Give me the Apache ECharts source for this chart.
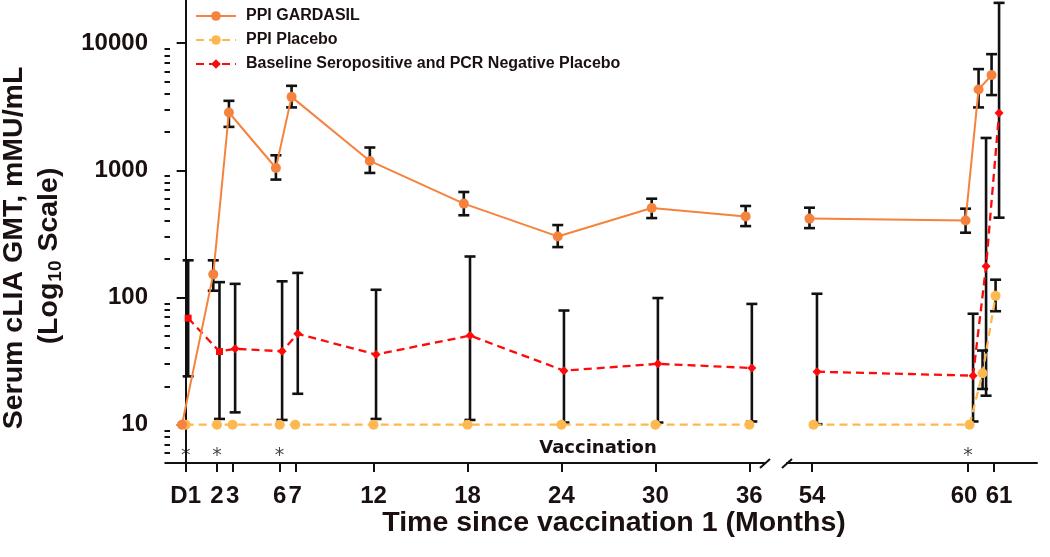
<!DOCTYPE html>
<html><head><meta charset="utf-8">
<script src="https://cdn.jsdelivr.net/npm/echarts@6/dist/echarts.min.js"></script>
<style>html,body{margin:0;padding:0;background:#fff}#c{width:1050px;height:557px}</style>
</head><body><div id="c"></div><script>
// ---- data (months since vaccination 1) ----
const monthsLeft = [0, 2, 3, 6, 7, 12, 18, 24, 30, 36];
const monthsRight = [54, 60, 60.5, 61];
const tickLabelsLeft = ['D1', '2', '3', '6', '7', '12', '18', '24', '30', '36'];
const tickValuesRightA = [54, 60];
const tickLabelsRightA = ['54', '60'];
const tickValuesRightB = [61];
const tickLabelsRightB = ['61'];
const yTickValues = [10, 100, 1000, 10000];
const yMinorTicks = [5, 6, 7, 8, 9, 20, 30, 40, 50, 60, 70, 80, 90, 200, 300, 400, 500, 600, 700, 800, 900, 2000, 3000, 4000, 5000, 6000, 7000, 8000, 9000];

const gardasilGMT  = [10, 152, 2846, 1042, 3776, 1184, 547, 302, 505, 434, 417, 403, 4317, 5600];
const gardasilLow  = [null, 113, 2193, 845, 3120, 953, 443, 249, 421, 364, 351, 323, 3120, 3900];
const gardasilHigh = [null, 196, 3515, 1312, 4613, 1510, 675, 371, 598, 524, 508, 499, 6240, 8180];

const placeboGMT  = [10, 10, 10, 10, 10, 10, 10, 10, 10, 10, 10, 10, 25.4, 103];
const placeboLow  = [null, null, null, null, null, null, null, null, null, null, null, null, 19.1, 78];
const placeboHigh = [null, null, null, null, null, null, null, null, null, null, null, null, 38.3, 138];

const seroGMT  = [68.7, 37.6, 39.5, 37.8, 51.8, 35.6, 50.2, 26.6, 30.1, 27.9, 26.1, 24.3, 176, 2826];
const seroLow  = [24, 11.1, 12.5, 10.9, 17.5, 11.1, 10.9, 10.4, 10.4, 10.6, 10.1, 10.6, 16.9, 424];
const seroHigh = [196, 132, 128, 134, 156, 115, 210, 79, 99, 89, 107, 74.5, 1795, 20700];
const seroSymbols = ['rect', 'rect', 'diamond', 'diamond', 'diamond', 'diamond', 'diamond', 'diamond', 'diamond', 'diamond', 'diamond', 'diamond', 'diamond', 'diamond'];

const asteriskLeft = [0, 2, 6];
const asteriskRight = [60];

// ---- layout / style ----
const TXT = '#1a1010';
const C_GARD = '#F5833E', C_PLAC = '#FDB94F', C_SERO = '#FF0A0A';
const LG = {left: 170, width: 595, min: -1, max: 37};
const RG = {left: 787, width: 250, min: 53.04, max: 62.65};
const YG = {top: 0, height: 463, min: 5, max: 21800};
const pxL = LG.width / (LG.max - LG.min), pxR = RG.width / (RG.max - RG.min);
const jitter = {gard: [-3.7, -2.5], plac: [0, 1.5], sero: [2.5, 5]}; // px, left/right
const ASTER_Y = 5.65;

const nL = monthsLeft.length;
function part(arr, right) { return right ? arr.slice(nL) : arr.slice(0, nL); }

function lineSeries(name, vals, color, dashed, symbol, symSize, jit, right, symbols) {
  const months = right ? monthsRight : monthsLeft;
  const off = jit[right ? 1 : 0] / (right ? pxR : pxL);
  const v = part(vals, right);
  const syms = symbols ? part(symbols, right) : null;
  return {
    type: 'line', name: name, xAxisIndex: right ? 1 : 0, yAxisIndex: right ? 2 : 0,
    data: months.map((m, i) => syms ? {value: [m + off, v[i]], symbol: syms[i], symbolSize: syms[i] === 'rect' ? 7 : symSize} : [m + off, v[i]]),
    symbol: symbol, symbolSize: symSize, showSymbol: true,
    lineStyle: {color: color, width: dashed ? 2.3 : 2, type: dashed ? [8, 5] : 'solid'},
    itemStyle: {color: color, borderWidth: 0},
    z: 3, silent: true, animation: false
  };
}

function errSeries(lo, hi, jit, right) {
  const months = right ? monthsRight : monthsLeft;
  const off = jit[right ? 1 : 0] / (right ? pxR : pxL);
  const l = part(lo, right), h = part(hi, right);
  const data = [];
  months.forEach((m, i) => { if (l[i] != null) data.push([m + off, l[i], h[i]]); });
  return {
    type: 'custom', xAxisIndex: right ? 1 : 0, yAxisIndex: right ? 2 : 0,
    data: data, encode: {x: 0, y: [1, 2]}, z: 2, silent: true, animation: false,
    renderItem: function (params, api) {
      const x = api.value(0);
      const a = api.coord([x, api.value(1)]), b = api.coord([x, api.value(2)]);
      const w = 5.5, st = {stroke: '#111', lineWidth: 2.6};
      return {type: 'group', children: [
        {type: 'line', shape: {x1: a[0], y1: a[1], x2: b[0], y2: b[1]}, style: st},
        {type: 'line', shape: {x1: a[0] - w, y1: a[1], x2: a[0] + w, y2: a[1]}, style: st},
        {type: 'line', shape: {x1: b[0] - w, y1: b[1], x2: b[0] + w, y2: b[1]}, style: st}
      ]};
    }
  };
}

function asteriskSeries(months, right) {
  return {
    type: 'scatter', xAxisIndex: right ? 1 : 0, yAxisIndex: right ? 2 : 0,
    data: months.map(m => [m, ASTER_Y]), symbolSize: 0, silent: true, animation: false,
    label: {show: true, position: 'inside', formatter: '*', color: TXT, fontSize: 19, fontFamily: 'DejaVu Sans'}
  };
}

const axisLabelFont = {color: TXT, fontSize: 24, fontWeight: 'bold', fontFamily: 'Liberation Sans'};
// label nudges so the close "60" / "61" labels sit apart like the reference
const labelRich = {
  l: Object.assign({padding: [0, 8, 0, 0]}, axisLabelFont),
  r: Object.assign({padding: [0, 0, 0, 10]}, axisLabelFont)
};
const labelNudge = {'60': 'l', '61': 'r'};

function xAxis(gi, cfg, values, labels, showLine) {
  return {
    type: 'value', gridIndex: gi, min: cfg.min, max: cfg.max, position: 'bottom', offset: 0,
    axisLine: {show: showLine, onZero: false, lineStyle: {color: '#111', width: 2}},
    axisTick: {show: true, customValues: values, length: 9, lineStyle: {color: '#111', width: 2}},
    axisLabel: Object.assign({customValues: values, margin: 21, hideOverlap: false, rich: labelRich,
      formatter: function (v) {
        const i = values.findIndex(t => Math.abs(t - v) < 1e-6);
        if (i < 0) return '';
        const s = labels[i];
        return labelNudge[s] ? '{' + labelNudge[s] + '|' + s + '}' : s;
      }}, axisLabelFont),
    splitLine: {show: false}
  };
}

const option = {
  animation: false,
  backgroundColor: '#fff',
  grid: [
    {left: LG.left, top: YG.top, width: LG.width, height: YG.height, containLabel: false},
    {left: RG.left, top: YG.top, width: RG.width, height: YG.height, containLabel: false}
  ],
  xAxis: [
    xAxis(0, LG, monthsLeft, tickLabelsLeft, true),
    xAxis(1, RG, tickValuesRightA, tickLabelsRightA, true),
    xAxis(1, RG, tickValuesRightB, tickLabelsRightB, false)
  ],
  yAxis: [
    {type: 'log', gridIndex: 0, position: 'left', min: YG.min, max: YG.max, logBase: 10,
     axisLine: {show: true, lineStyle: {color: '#111', width: 2}},
     axisTick: {show: true, customValues: yTickValues, length: 9, lineStyle: {color: '#111', width: 2}},
     axisLabel: Object.assign({customValues: yTickValues, margin: 22, formatter: v => String(Math.round(v))}, axisLabelFont),
     splitLine: {show: false}},
    {type: 'log', gridIndex: 0, position: 'left', offset: 0, min: YG.min, max: YG.max, logBase: 10,
     axisLine: {show: false},
     axisTick: {show: true, customValues: yMinorTicks, length: 5.5, lineStyle: {color: '#111', width: 2}},
     axisLabel: {show: false}, splitLine: {show: false}},
    {type: 'log', gridIndex: 1, min: YG.min, max: YG.max, logBase: 10, show: false}
  ],
  legend: {
    data: ['PPI GARDASIL', 'PPI Placebo', 'Baseline Seropositive and PCR Negative Placebo'],
    orient: 'vertical', left: 195, top: 8, padding: 0, itemWidth: 40, itemHeight: 12, itemGap: 8,
    textStyle: {color: TXT, fontSize: 16, fontWeight: 'bold', fontFamily: 'Liberation Sans', padding: [0, 0, 0, 5]},
    selectedMode: false
  },
  graphic: [
    {type: 'text', x: 14, y: 248, rotation: Math.PI / 2, z: 10,
     style: {text: 'Serum cLIA GMT, mMU/mL', fill: TXT, fontSize: 28.5, fontWeight: 'bold', fontFamily: 'Liberation Sans', align: 'center', verticalAlign: 'middle'}},
    {type: 'text', x: 49, y: 256, rotation: Math.PI / 2, z: 10,
     style: {text: '{a|(Log}{s|10}{a| Scale)}', fill: TXT, align: 'center', verticalAlign: 'middle',
       rich: {a: {fontSize: 28.5, fontWeight: 'bold', fontFamily: 'Liberation Sans', fill: TXT},
              s: {fontSize: 19, fontWeight: 'bold', fontFamily: 'Liberation Sans', fill: TXT, padding: [14, 1, 0, 1]}}}},
    {type: 'text', x: 614, y: 523, z: 10,
     style: {text: 'Time since vaccination 1 (Months)', fill: TXT, fontSize: 28.5, fontWeight: 'bold', fontFamily: 'Liberation Sans', align: 'center', verticalAlign: 'middle'}},
    {type: 'text', x: 598, y: 448, z: 10,
     style: {text: 'Vaccination', fill: TXT, fontSize: 18, fontWeight: 'bold', fontFamily: 'DejaVu Sans', align: 'center', verticalAlign: 'middle'}},
    {type: 'line', shape: {x1: 760, y1: 468, x2: 770, y2: 459}, style: {stroke: '#111', lineWidth: 2}, z: 10},
    {type: 'line', shape: {x1: 782, y1: 468, x2: 792, y2: 459}, style: {stroke: '#111', lineWidth: 2}, z: 10}
  ],
  series: [
    errSeries(gardasilLow, gardasilHigh, jitter.gard, false),
    errSeries(gardasilLow, gardasilHigh, jitter.gard, true),
    errSeries(placeboLow, placeboHigh, jitter.plac, false),
    errSeries(placeboLow, placeboHigh, jitter.plac, true),
    errSeries(seroLow, seroHigh, jitter.sero, false),
    errSeries(seroLow, seroHigh, jitter.sero, true),
    lineSeries('PPI Placebo', placeboGMT, C_PLAC, true, 'circle', 10, jitter.plac, false),
    lineSeries('PPI Placebo', placeboGMT, C_PLAC, true, 'circle', 10, jitter.plac, true),
    lineSeries('Baseline Seropositive and PCR Negative Placebo', seroGMT, C_SERO, true, 'diamond', 9, jitter.sero, false, seroSymbols),
    lineSeries('Baseline Seropositive and PCR Negative Placebo', seroGMT, C_SERO, true, 'diamond', 9, jitter.sero, true, seroSymbols),
    lineSeries('PPI GARDASIL', gardasilGMT, C_GARD, false, 'circle', 10, jitter.gard, false),
    lineSeries('PPI GARDASIL', gardasilGMT, C_GARD, false, 'circle', 10, jitter.gard, true),
    asteriskSeries(asteriskLeft, false),
    asteriskSeries(asteriskRight, true)
  ]
};
const chart = echarts.init(document.getElementById('c'), null, {renderer: 'canvas'});
chart.setOption(option);
</script></body></html>
